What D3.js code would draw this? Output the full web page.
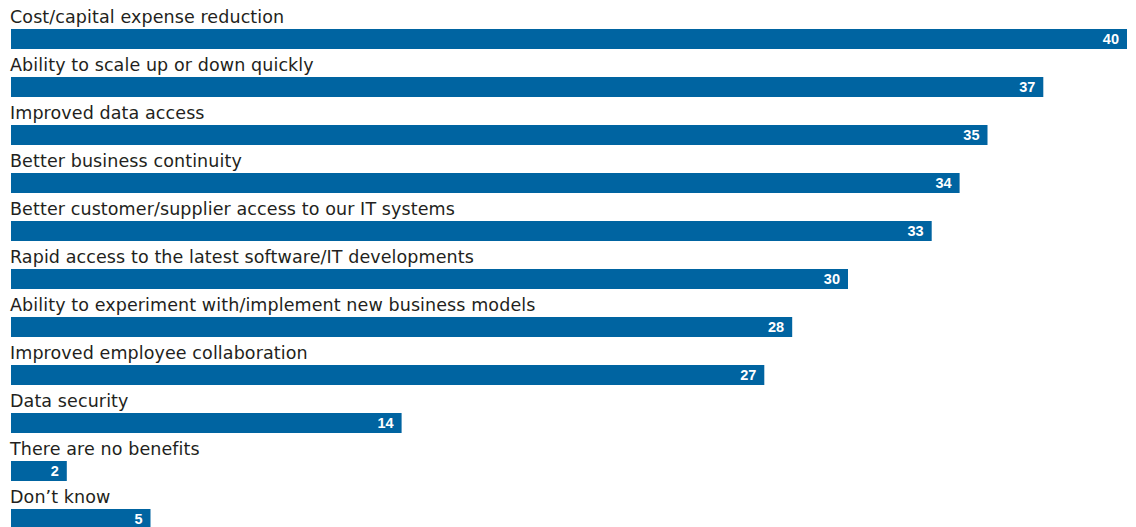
<!DOCTYPE html>
<html>
<head>
<meta charset="utf-8">
<script src="https://cdn.jsdelivr.net/npm/d3@7"></script>
<style>
  html, body { margin: 0; padding: 0; background: #fff; }
  svg { display: block; }
</style>
</head>
<body>
<svg id="chart" width="1136" height="527"></svg>
<script>
// Benefits of cloud adoption (% of respondents)
const categories = [
  "Cost/capital expense reduction",
  "Ability to scale up or down quickly",
  "Improved data access",
  "Better business continuity",
  "Better customer/supplier access to our IT systems",
  "Rapid access to the latest software/IT developments",
  "Ability to experiment with/implement new business models",
  "Improved employee collaboration",
  "Data security",
  "There are no benefits",
  "Don\u2019t know"
];
const values = [40, 37, 35, 34, 33, 30, 28, 27, 14, 2, 5];

const svg = d3.select("#chart");
const left = 11, right = 1127;
const rowTop = 29, rowStep = 48, barH = 20;

const x = d3.scaleLinear().domain([0, 40]).range([left, right]);
const y = d3.scaleBand()
  .domain(categories)
  .range([rowTop, rowTop + rowStep * categories.length])
  .paddingInner(0).paddingOuter(0);

const rows = svg.selectAll("g.row")
  .data(categories.map((c, i) => ({ c, v: values[i] })))
  .join("g")
  .attr("class", "row")
  .attr("transform", d => `translate(0,${y(d.c)})`);

rows.append("text")
  .attr("x", left - 1)
  .attr("y", -6)
  .attr("font-family", "'DejaVu Sans', sans-serif")
  .attr("font-size", 17.5)
  .attr("letter-spacing", 0.1)
  .attr("fill", "#231f20")
  .text(d => d.c);

rows.append("rect")
  .attr("x", x(0))
  .attr("y", 0)
  .attr("width", d => x(d.v) - x(0))
  .attr("height", barH)
  .attr("fill", "#0064a1");

rows.append("text")
  .attr("x", d => x(d.v) - 8)
  .attr("y", barH / 2 + 5)
  .attr("text-anchor", "end")
  .attr("font-family", "'Liberation Sans', Arial, sans-serif")
  .attr("font-weight", "bold")
  .attr("font-size", 14.5)
  .attr("fill", "#fff")
  .text(d => d.v);
</script>
</body>
</html>
